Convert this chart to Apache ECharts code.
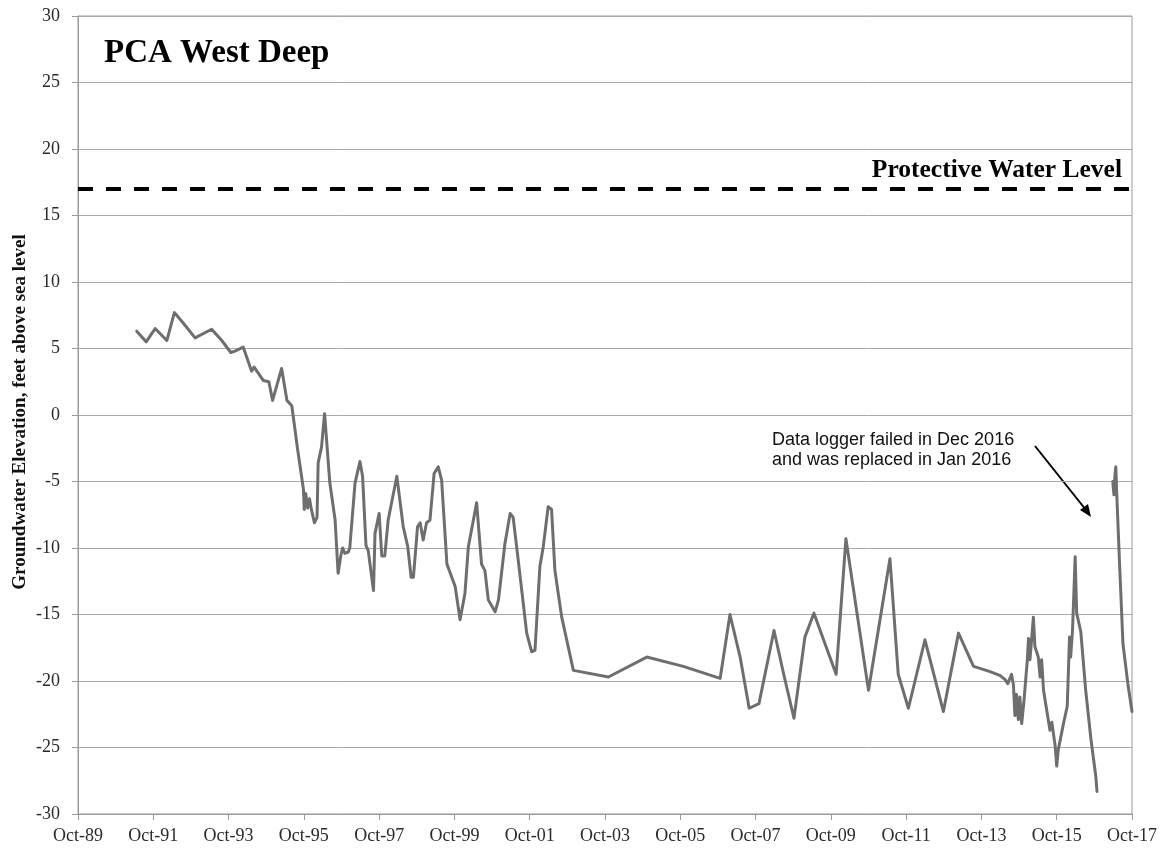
<!DOCTYPE html>
<html>
<head>
<meta charset="utf-8">
<title>PCA West Deep</title>
<script src="https://cdn.jsdelivr.net/npm/echarts@6/dist/echarts.min.js"></script>
<style>
    html, body { margin: 0; padding: 0; background: #fff; }
    #chartsbox { width: 1164px; height: 853px; }
</style>
</head>
<body>
<div id="chartsbox"></div>
<script type="text/javascript">

// decimal years of the readings (null value = logger gap)
var dates = [
    1991.31, 1991.56, 1991.80, 1992.11, 1992.31, 1992.55, 1992.86, 1993.30, 1993.57, 1993.81,
    1993.92, 1994.14, 1994.36, 1994.43, 1994.67, 1994.82, 1994.92, 1995.16, 1995.30, 1995.43,
    1995.58, 1995.74, 1995.76, 1995.80, 1995.85, 1995.90, 1995.95, 1996.03, 1996.10, 1996.13,
    1996.22, 1996.30, 1996.33, 1996.44, 1996.58, 1996.66, 1996.73, 1996.78, 1996.84, 1996.93,
    1996.97, 1997.11, 1997.24, 1997.31, 1997.40, 1997.46, 1997.60, 1997.64, 1997.75, 1997.82,
    1997.90, 1997.99, 1998.22, 1998.39, 1998.51, 1998.60, 1998.66, 1998.77, 1998.84, 1998.92,
    1999.01, 1999.10, 1999.21, 1999.32, 1999.41, 1999.55, 1999.77, 1999.90, 2000.03, 2000.12,
    2000.34, 2000.47, 2000.56, 2000.65, 2000.83, 2000.92, 2001.09, 2001.23, 2001.31, 2001.49,
    2001.67, 2001.80, 2001.89, 2002.02, 2002.11, 2002.24, 2002.33, 2002.42, 2002.60, 2002.91,
    2003.84, 2004.86, 2005.83, 2006.81, 2007.07, 2007.34, 2007.58, 2007.84, 2008.24, 2008.49,
    2008.77, 2009.06, 2009.30, 2009.89, 2010.15, 2010.75, 2011.32, 2011.54, 2011.81, 2012.25,
    2012.74, 2013.14, 2013.54, 2013.71, 2013.98, 2014.25, 2014.38, 2014.45, 2014.55, 2014.60,
    2014.64, 2014.68, 2014.73, 2014.77, 2014.82, 2014.88, 2014.97, 2015.00, 2015.04, 2015.13,
    2015.17, 2015.26, 2015.31, 2015.35, 2015.40, 2015.57, 2015.62, 2015.71, 2015.75, 2015.79,
    2015.93, 2016.03, 2016.09, 2016.12, 2016.17, 2016.24, 2016.28, 2016.39, 2016.52, 2016.66,
    2016.79, 2016.82, 2017.00, 2017.24, 2017.27, 2017.30, 2017.32, 2017.34, 2017.42, 2017.51,
    2017.64, 2017.75
];
// groundwater elevation, feet above sea level
var levels = [
    6.3, 5.5, 6.5, 5.6, 7.7, 6.9, 5.8, 6.45, 5.6, 4.7,
    4.8, 5.1, 3.3, 3.6, 2.6, 2.5, 1.1, 3.5, 1.1, 0.7,
    -2.5, -5.6, -7.1, -5.9, -7.0, -6.3, -7.1, -8.1, -7.7, -3.6,
    -2.4, 0.1, 0.0, -5.1, -7.9, -11.9, -10.6, -10.0, -10.4, -10.3,
    -10.0, -5.1, -3.5, -4.6, -9.8, -10.2, -13.2, -8.9, -7.4, -10.6,
    -10.6, -7.9, -4.6, -8.4, -9.9, -12.2, -12.2, -8.4, -8.1, -9.4,
    -8.1, -7.9, -4.4, -3.9, -4.9, -11.2, -12.9, -15.4, -13.4, -9.9,
    -6.6, -11.2, -11.7, -13.9, -14.8, -13.9, -9.7, -7.4, -7.7, -12.0,
    -16.4, -17.8, -17.7, -11.4, -9.9, -6.9, -7.1, -11.7, -15.2, -19.2,
    -19.7, -18.2, -18.9, -19.8, -15.0, -18.2, -22.05, -21.7, -16.2, -19.4,
    -22.8, -16.7, -14.9, -19.5, -9.3, -20.7, -10.8, -19.5, -22.05, -16.9,
    -22.3, -16.4, -18.9, -19.05, -19.3, -19.6, -19.9, -20.2, -19.5, -20.3,
    -22.6, -21.0, -22.9, -21.2, -23.2, -21.5, -18.4, -16.8, -18.4, -15.2,
    -17.4, -18.2, -19.7, -18.4, -20.7, -23.7, -23.1, -24.9, -26.4, -25.2,
    -23.2, -21.9, -16.7, -18.2, -16.2, -10.65, -14.9, -16.3, -20.7, -24.4,
    -27.2, -28.3, null, -5.0, -6.0, -4.4, -3.9, -5.6, -11.2, -17.2,
    -20.2, -22.3
];
var protectiveLevel = 17;
var yTicks = { min: -30, max: 30, step: 5 };
// x axis runs in months counted from Oct 1989, a label every 24 months
var xTicks = { min: 0, max: 336, step: 24 };
var startYear = 1989.75;

var serif = '"Liberation Serif", "Times New Roman", serif';

function toMonths(yr) {
    return Math.round((yr - startYear) * 12 * 100) / 100;
}

function monthLabel(v) {
    var yr = 1989 + Math.round(v / 12);
    var yy = String(yr % 100);
    if (yy.length < 2) { yy = '0' + yy; }
    return 'Oct-' + yy;
}

var seriesData = [];
for (var i = 0; i < dates.length; i++) {
    seriesData.push([toMonths(dates[i]), levels[i] === null ? '-' : levels[i]]);
}

var myChart = echarts.init(document.getElementById('chartsbox'), null, { renderer: 'canvas' });
var option = {
    animation: false,
    backgroundColor: '#fff',
    grid: {
        left: 78,
        right: 32,
        top: 16,
        bottom: 39,
        outerBoundsMode: 'none',
        containLabel: false,
        show: true,
        borderColor: '#9a9a9a',
        borderWidth: 1
    },
    xAxis: {
        type: 'value',
        min: xTicks.min,
        max: xTicks.max,
        interval: xTicks.step,
        axisLine: { show: true, onZero: false, lineStyle: { color: '#9a9a9a', width: 1 } },
        axisTick: { show: true, inside: false, length: 6, lineStyle: { color: '#9a9a9a' } },
        splitLine: { show: false },
        axisLabel: {
            margin: 13,
            color: '#2a2a2a',
            fontFamily: serif,
            fontSize: 18,
            formatter: monthLabel
        }
    },
    yAxis: {
        type: 'value',
        min: yTicks.min,
        max: yTicks.max,
        interval: yTicks.step,
        axisLine: { show: true, lineStyle: { color: '#9a9a9a', width: 1 } },
        axisTick: { show: true, inside: false, length: 6, lineStyle: { color: '#9a9a9a' } },
        splitLine: { show: true, lineStyle: { color: '#a8a8a8', width: 1 } },
        axisLabel: {
            margin: 18,
            color: '#2a2a2a',
            fontFamily: serif,
            fontSize: 18
        }
    },
    series: [
        {
            name: 'PCA West Deep',
            type: 'line',
            data: seriesData,
            showSymbol: false,
            connectNulls: false,
            clip: true,
            lineStyle: { color: '#6e6e6e', width: 3, join: 'round', cap: 'round' },
            markLine: {
                silent: true,
                symbol: ['none', 'none'],
                label: { show: false },
                lineStyle: { color: '#000', width: 4, type: [15, 13] },
                data: [{ yAxis: protectiveLevel }]
            },
            z: 3
        }
    ],
    graphic: [
        {
            // y axis title
            type: 'text',
            x: 20,
            y: 412,
            rotation: Math.PI / 2,
            style: {
                text: 'Groundwater Elevation, feet above sea level',
                fontFamily: serif,
                fontSize: 19,
                fontWeight: 'bold',
                fill: '#111',
                align: 'center',
                verticalAlign: 'middle'
            }
        },
        {
            type: 'text',
            left: 104,
            top: 37,
            style: {
                text: 'PCA West Deep',
                fontFamily: serif,
                fontSize: 33,
                fontWeight: 'bold',
                fill: '#000'
            }
        },
        {
            type: 'text',
            right: 42,
            top: 157,
            style: {
                text: 'Protective Water Level',
                fontFamily: serif,
                fontSize: 25.5,
                fontWeight: 'bold',
                fill: '#000'
            }
        },
        {
            type: 'text',
            left: 772,
            top: 430,
            style: {
                text: 'Data logger failed in Dec 2016\nand was replaced in Jan 2016',
                fontFamily: '"Liberation Sans", Arial, sans-serif',
                fontSize: 18,
                lineHeight: 20,
                fill: '#111'
            }
        },
        {
            type: 'line',
            shape: { x1: 1035, y1: 446, x2: 1086, y2: 510 },
            style: { stroke: '#000', lineWidth: 2 }
        },
        {
            type: 'polygon',
            shape: { points: [[1091, 517], [1080, 510], [1088, 504]] },
            style: { fill: '#000' }
        }
    ]
};
myChart.setOption(option);

</script>
</body>
</html>
